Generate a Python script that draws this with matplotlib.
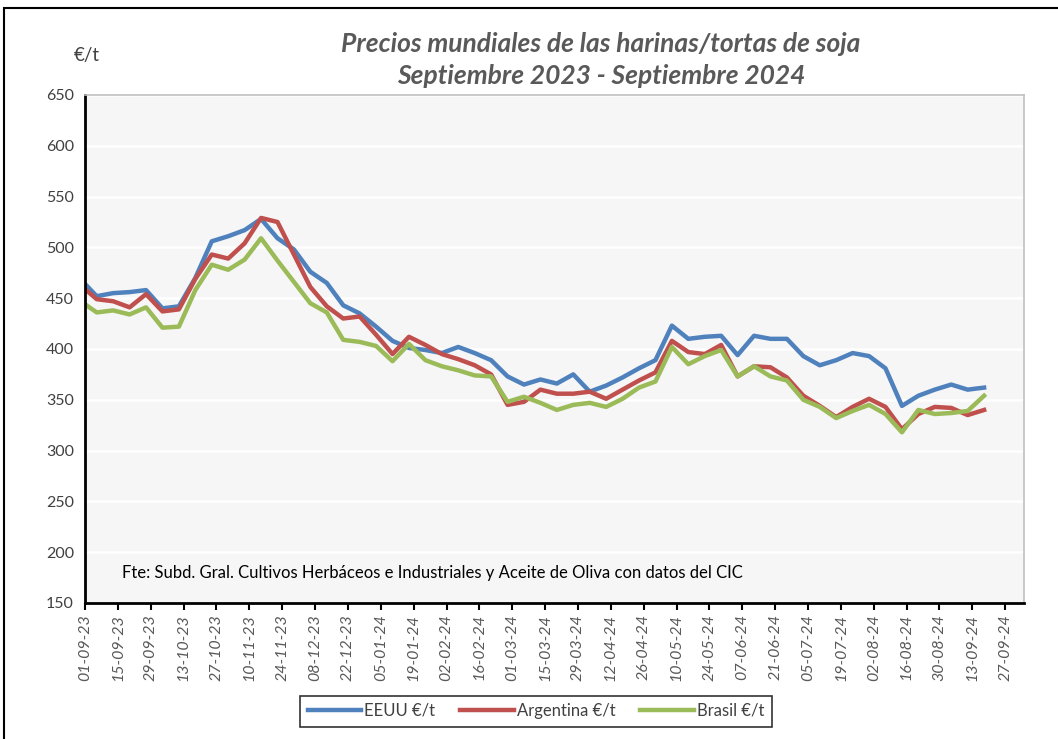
import datetime as dt
import matplotlib
matplotlib.use('Agg')
import matplotlib.pyplot as plt
import matplotlib.dates as mdates
from matplotlib.patches import Rectangle

# weekly prices (EUR/t)
dates = [dt.date(2023, 9, 1)] + [dt.date(2023, 9, 6) + dt.timedelta(weeks=k) for k in range(55)]

eeuu = [464, 452, 455, 456, 458, 440, 442, 470, 506, 511, 517, 528, 509, 498, 476,
        465, 443, 435, 422, 408, 401, 399, 396, 402, 396, 389, 373, 365, 370, 366,
        375, 358, 364, 372, 381, 389, 423, 410, 412, 413, 394, 413, 410, 410, 393,
        384, 389, 396, 393, 381, 344, 354, 360, 365, 360, 362]
argentina = [459, 449, 447, 441, 454, 437, 439, 469, 493, 489, 504, 529, 525, 493, 461,
             442, 430, 432, 414, 395, 412, 404, 395, 390, 384, 375, 345, 348, 360, 356,
             356, 358, 351, 360, 369, 377, 408, 397, 395, 404, 373, 383, 382, 372, 354,
             344, 333, 343, 351, 343, 321, 336, 343, 342, 335, 340]
brasil = [444, 436, 438, 434, 441, 421, 422, 458, 483, 478, 488, 509, 487, 466, 445,
          436, 409, 407, 403, 388, 405, 389, 383, 379, 374, 373, 348, 353, 347, 340,
          345, 347, 343, 351, 362, 368, 402, 385, 393, 399, 373, 383, 373, 369, 350,
          343, 332, 339, 345, 336, 318, 340, 336, 337, 339, 354]

series = [('EEUU €/t', eeuu, '#4F81BD'),
          ('Argentina €/t', argentina, '#C0504D'),
          ('Brasil €/t', brasil, '#9BBB59')]

tick_dates = [dt.date(2023, 9, 1) + dt.timedelta(days=14 * k) for k in range(29)]

plt.rcParams['font.family'] = ['Lato', 'DejaVu Sans']
W, H = 1058, 739
fig = plt.figure(figsize=(W / 100, H / 100), dpi=100)

# outer chart frame
fig.patches.append(Rectangle((4 / W, -0.1), 1.2, 1 - 8 / H + 0.1, transform=fig.transFigure,
                             fill=False, edgecolor='black', linewidth=1.5))

ax = fig.add_axes([85 / W, 1 - 603 / H, (1024 - 85) / W, (603 - 95) / H])
ax.set_facecolor('#F6F6F6')

for name, vals, col in series:
    ax.plot(dates, vals, color=col, linewidth=3.2, label=name, solid_joinstyle='round')

ax.set_ylim(150, 650)
ax.set_yticks(range(150, 651, 50))
ax.set_xlim(dt.date(2023, 9, 1), dt.date(2024, 10, 5))
ax.set_xticks(tick_dates)
ax.xaxis.set_major_formatter(mdates.DateFormatter('%d-%m-%y'))
ax.grid(axis='y', color='white', linewidth=1.8)
ax.set_axisbelow(True)

for lbl in ax.get_xticklabels():
    lbl.set_rotation(90)
    lbl.set_fontstyle('italic')
ax.tick_params(axis='x', direction='out', length=5, width=1.5, color='black',
               labelsize=11.5, labelcolor='#595959', pad=3)
ax.tick_params(axis='y', length=0, labelsize=11.5, labelcolor='#404040', pad=8)

ax.spines['left'].set_color('black')
ax.spines['left'].set_linewidth(2)
ax.spines['bottom'].set_color('black')
ax.spines['bottom'].set_linewidth(2)
for s in ('top', 'right'):
    ax.spines[s].set_color('#C0C0C0')
    ax.spines[s].set_linewidth(1.2)

fig.text(601 / W, 1 - 44 / H, 'Precios mundiales de las harinas/tortas de soja',
         ha='center', va='center', fontsize=19, fontstyle='italic', fontweight='bold',
         color='#595959')
fig.text(601 / W, 1 - 76 / H, 'Septiembre 2023 - Septiembre 2024',
         ha='center', va='center', fontsize=19, fontstyle='italic', fontweight='bold',
         color='#595959')
fig.text(87 / W, 1 - 56 / H, '€/t', ha='center', va='center', fontsize=13.5, color='#404040')

fig.text(122 / W, 1 - 573 / H,
         'Fte: Subd. Gral. Cultivos Herbáceos e Industriales y Aceite de Oliva con datos del CIC',
         ha='left', va='center', fontsize=12, color='black')

leg = fig.legend(loc='center', bbox_to_anchor=(536 / W, 1 - 711 / H), ncol=3,
                 fontsize=12, frameon=True, fancybox=False, handlelength=3.2,
                 columnspacing=1.5, handletextpad=0.2, borderpad=0.45)
leg.get_frame().set_edgecolor('black')
leg.get_frame().set_linewidth(1.2)
for t in leg.get_texts():
    t.set_color('#404040')

fig.savefig('out.png', dpi=100, facecolor='white')
